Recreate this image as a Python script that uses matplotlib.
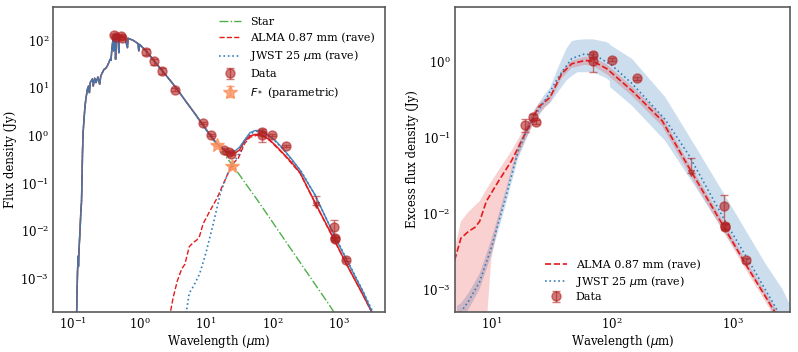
import matplotlib
matplotlib.use("Agg")
import matplotlib.pyplot as plt
import numpy as np

# ---------------- data ----------------
# stellar photosphere model (wavelength um, flux Jy)
star_wl = [0.110, 0.113, 0.116, 0.118, 0.119, 0.1195, 0.122, 0.127, 0.130, 0.133, 0.135, 0.138,
           0.141, 0.145, 0.150, 0.155, 0.163, 0.170, 0.175, 0.180, 0.194, 0.200, 0.210, 0.220,
           0.235, 0.250, 0.260, 0.290, 0.310, 0.330, 0.360, 0.370, 0.380, 0.390, 0.400, 0.405,
           0.410, 0.430, 0.434, 0.440, 0.470, 0.486, 0.490, 0.550, 0.600, 0.656, 0.670, 0.800,
           0.950, 0.970, 1.00, 1.29, 1.68, 2.25, 3.0, 3.7, 5.0, 7.0, 10, 13, 15.3, 20, 26.7,
           40, 60, 100, 200, 400, 700, 1000, 2000]
star_fl = [1e-5, 3e-4, 1.5e-3, 2.5e-3, 3e-3, 1.8e-3, 4e-3, 0.012, 0.025, 0.04, 0.1, 0.5,
           1.2, 2.2, 4.0, 6.0, 9.3, 11, 8, 13, 15.5, 11, 16, 13,
           17, 12, 18, 24.5, 26, 30, 40, 38, 60, 85, 110, 60,
           125, 134, 40, 130, 128, 55, 125, 118, 115, 70, 110, 100,
           85, 60, 82, 57, 36, 22, 13.5, 9.3, 5.2, 2.75, 1.35, 0.8, 0.6, 0.36, 0.215,
           0.097, 0.044, 0.0156, 3.8e-3, 9.3e-4, 3e-4, 1.4e-4, 3.5e-5]

# disc excess models
alma_wl = [2.8, 3.2, 3.7, 4.3, 4.8, 5.6, 6.5, 7.3, 8.0, 9.1, 11.4, 14.7, 19, 24.5, 30.7,
           38.3, 46.4, 60, 70, 90.8, 147, 261, 435, 826, 1292, 2300, 3500]
alma_fl = [1.5e-4, 4e-4, 9e-4, 1.6e-3, 2e-3, 4.7e-3, 5.8e-3, 6.5e-3, 7.8e-3, 0.0144, 0.026,
           0.049, 0.11, 0.248, 0.336, 0.687, 0.93, 1.03, 1.0, 0.8, 0.41, 0.165, 0.04,
           0.0071, 0.0021, 4.7e-4, 1.5e-4]
jwst_wl = [4.9, 5.6, 6.5, 8.0, 10, 12.9, 16.7, 21.5, 27.8, 36, 46.4, 60, 77, 100, 147, 278,
           435, 880, 1377, 2450, 3700]
jwst_fl = [1.5e-4, 5e-4, 7e-4, 1.25e-3, 3.5e-3, 0.0144, 0.066, 0.165, 0.304, 0.62, 1.09,
           1.26, 1.14, 0.885, 0.51, 0.17, 0.058, 7.6e-3, 2.3e-3, 4.7e-4, 1.4e-4]

# total (star + disc) models in the infrared
tot_wl = [8, 10, 13, 16, 19, 22, 25, 28, 32, 38, 46, 55, 65, 75, 90, 110, 147, 200, 261,
          435, 826, 1292, 2300, 3500]
tot_alma = [2.1, 1.37, 0.835, 0.6, 0.5, 0.44, 0.43, 0.44, 0.5, 0.77, 0.99, 1.06, 1.06, 0.98,
            0.82, 0.64, 0.42, 0.265, 0.167, 0.041, 0.0073, 0.0021, 4.7e-4, 1.5e-4]
tot_jwst = [2.1, 1.35, 0.815, 0.59, 0.49, 0.46, 0.46, 0.49, 0.57, 0.8, 1.15, 1.28, 1.27, 1.18,
            0.98, 0.8, 0.52, 0.31, 0.19, 0.059, 9e-3, 2.6e-3, 5.5e-4, 1.5e-4]

# uncertainty bands (excess)
rb_wl = [5, 5.6, 6.5, 8, 9, 9.2, 10, 11.4, 14.7, 19, 24.5, 30.7, 38.3, 46.4, 60, 70, 90, 147,
         261, 435, 826, 1292, 2300, 3500]
rb_lo = [1e-5, 1e-5, 1e-5, 1e-5, 1e-5, 4e-4, 2.5e-3, 7e-3, 0.035, 0.09, 0.2, 0.29, 0.6, 0.82,
         0.9, 0.87, 0.68, 0.35, 0.14, 0.034, 6e-3, 1.8e-3, 4e-4, 1.2e-4]
rb_hi = [3.5e-3, 7.8e-3, 0.0105, 0.0144, 0.02, 0.021, 0.026, 0.036, 0.066, 0.135, 0.275, 0.36,
         0.76, 1.02, 1.15, 1.13, 0.92, 0.47, 0.19, 0.046, 8.2e-3, 2.4e-3, 5.4e-4, 1.75e-4]
bb_wl = [5.2, 5.6, 6.5, 8, 10, 12.9, 16.7, 21.5, 27.8, 30.7, 36, 42, 46.4, 52, 60, 70, 90, 96,
         96.5, 147, 278, 520, 1000, 1900, 2600, 3200]
bb_lo = [1e-5, 3.8e-4, 5.5e-4, 1e-3, 2.8e-3, 0.0115, 0.053, 0.135, 0.25, 0.28, 0.4, 0.56,
         0.64, 0.72, 0.72, 0.72, 0.6, 0.55, 0.46, 0.26, 0.089, 0.0195, 3.8e-3, 7.5e-4, 2.5e-4, 1e-4]
bb_hi = [6e-4, 6.5e-4, 9e-4, 1.6e-3, 4.5e-3, 0.018, 0.08, 0.2, 0.37, 0.45, 0.84, 1.47, 1.85,
         1.92, 1.95, 1.95, 1.8, 1.7, 1.65, 1.08, 0.336, 0.066, 0.0117, 2.1e-3, 1e-3, 5e-4]

# photometry (total flux)
sed_wl = [0.41, 0.44, 0.52, 0.55, 1.25, 1.65, 2.2, 3.4, 8.9, 12, 19, 22, 23.5, 70, 70, 100,
          160, 850, 870, 870, 1300]
sed_fl = [128, 118, 122, 114, 57, 36, 23, 9.3, 1.85, 1.03, 0.51, 0.445, 0.41, 1.2, 1.05, 1.05,
          0.6, 0.0123, 0.0068, 0.0070, 0.0025]
sed_err = [5, 5, 5, 5, 8, 5, 3, 0.5, 0.1, 0.05, 0.03, 0.017, 0.01, 0.06, 0.3, 0.05,
           0.03, 0.005, 0.0006, 0.0006, 0.0002]
lim_wl = [450]
lim_sed = [0.035]
lim_exc = [0.034]
lim_err = [0.019]

# excess photometry
exc_wl = [19, 22, 23.5, 70, 70, 100, 160, 850, 870, 870, 1300]
exc_fl = [0.146, 0.186, 0.16, 1.2, 1.02, 1.05, 0.6, 0.0123, 0.0066, 0.0068, 0.0024]
exc_err = [0.03, 0.017, 0.01, 0.06, 0.3, 0.05, 0.03, 0.005, 0.0006, 0.0006, 0.0002]

# parametric stellar flux
fstar_wl = [14.5, 25]
fstar_fl = [0.625, 0.226]
fstar_err = [0.03, 0.012]

# ---------------- style ----------------
plt.rcParams['font.family'] = ['DejaVu Serif']
plt.rcParams['font.size'] = 8
RED, BLUE, GREEN = '#e41a1c', '#377eb8', '#4daf4a'
DATA = '#b22222'
ORANGE = '#fc8d59'

fig = plt.figure(figsize=(7.98, 3.52), dpi=100)
ax1 = fig.add_axes([0.0668, 0.1136, 0.4157, 0.8665])
ax2 = fig.add_axes([0.5702, 0.1136, 0.4198, 0.8665])

for ax in (ax1, ax2):
    ax.set_xscale('log')
    ax.set_yscale('log')
    for s in ax.spines.values():
        s.set_color('#5a5a5a')
        s.set_linewidth(1.2)
    ax.tick_params(which='both', length=0, pad=3, labelsize=8.5)
    ax.minorticks_off()

# ---- left panel ----
sw = np.array(star_wl); sf = np.array(star_fl)
keep = sw < 8
tw = np.concatenate([sw[keep], tot_wl])
ta = np.concatenate([sf[keep], tot_alma])
tj = np.concatenate([sf[keep], tot_jwst])

ax1.plot(sw, sf, color=GREEN, ls='-.', lw=1.0, label='Star')
ax1.plot(alma_wl, alma_fl, color=RED, ls='--', lw=1.0, label='ALMA 0.87 mm (rave)')
ax1.plot(jwst_wl, jwst_fl, color=BLUE, ls=':', lw=1.2, label=r'JWST 25 $\mu$m (rave)')
ax1.plot(tw, ta, color=RED, ls='-', lw=1.1)
ax1.plot(tw, tj, color=BLUE, ls='-', lw=1.1, alpha=0.9)
ax1.errorbar(sed_wl, sed_fl, yerr=sed_err, fmt='o', color=DATA, ms=6.5, alpha=0.6,
             capsize=3, elinewidth=1, label='Data')
ax1.errorbar(lim_wl, lim_sed, yerr=[[0], lim_err], fmt='v', color=DATA, ms=5, alpha=0.6,
             capsize=3, elinewidth=1)
ax1.errorbar(fstar_wl, fstar_fl, yerr=fstar_err, fmt='*', color=ORANGE, ms=10, alpha=0.75,
             capsize=3, elinewidth=1, label=r'$F_*$ (parametric)')
ax1.set_xlim(0.05, 5000)
ax1.set_ylim(2e-4, 500)
ax1.set_xticks([0.1, 1, 10, 100, 1000])
ax1.set_yticks([1e-3, 1e-2, 1e-1, 1, 10, 100])
ax1.set_xlabel(r'Wavelength ($\mu$m)', fontsize=8.5, labelpad=0.5)
ax1.set_ylabel('Flux density (Jy)', fontsize=8.5, labelpad=2.5)
ax1.legend(loc='upper right', frameon=False, fontsize=8, labelspacing=0.5, handlelength=2.0,
           borderaxespad=0.5)

# ---- right panel ----
ax2.fill_between(bb_wl, bb_lo, bb_hi, color=BLUE, alpha=0.25, lw=0)
ax2.fill_between(rb_wl, rb_lo, rb_hi, color=RED, alpha=0.2, lw=0)
ax2.plot(alma_wl, alma_fl, color=RED, ls='--', lw=1.2, label='ALMA 0.87 mm (rave)')
ax2.plot(jwst_wl, jwst_fl, color=BLUE, ls=':', lw=1.2, label=r'JWST 25 $\mu$m (rave)')
ax2.errorbar(exc_wl, exc_fl, yerr=exc_err, fmt='o', color=DATA, ms=6.5, alpha=0.6,
             capsize=3, elinewidth=1, label='Data')
ax2.errorbar(lim_wl, lim_exc, yerr=[[0], lim_err], fmt='v', color=DATA, ms=5, alpha=0.6,
             capsize=3, elinewidth=1)
ax2.set_xlim(5, 3000)
ax2.set_ylim(5e-4, 5.2)
ax2.set_xticks([10, 100, 1000])
ax2.set_yticks([1e-3, 1e-2, 1e-1, 1])
ax2.set_xlabel(r'Wavelength ($\mu$m)', fontsize=8.5, labelpad=0.5)
ax2.set_ylabel('Excess flux density (Jy)', fontsize=8.5, labelpad=2.5)
ax2.legend(loc='lower center', frameon=False, fontsize=8, labelspacing=0.3, handlelength=2.0)

fig.savefig('out.png', dpi=100)
